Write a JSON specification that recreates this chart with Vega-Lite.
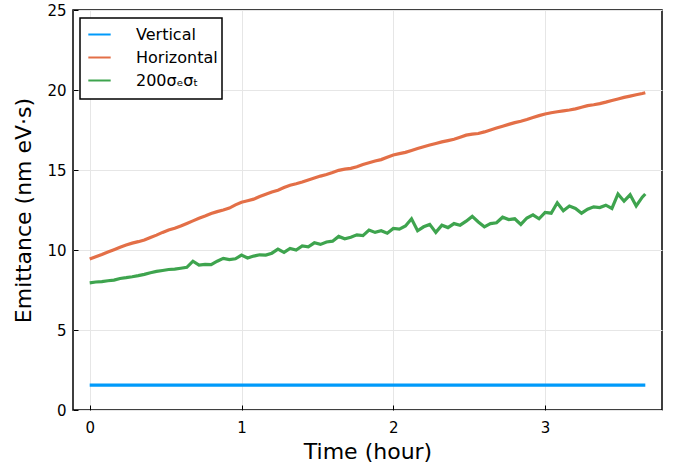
{
  "$schema": "https://vega.github.io/schema/vega-lite/v6.json",
  "autosize": "none",
  "width": 589,
  "height": 400,
  "padding": {"left": 73, "top": 10, "right": 16, "bottom": 58},
  "background": "white",
  "config": {
    "view": {"stroke": "#000000", "strokeWidth": 1.5},
    "font": "DejaVu Sans",
    "axis": {
      "labelFont": "DejaVu Sans",
      "titleFont": "DejaVu Sans",
      "labelColor": "#000000",
      "titleColor": "#000000",
      "labelFontSize": 15,
      "titleFontSize": 22,
      "titleFontWeight": "normal",
      "gridColor": "#e6e6e6",
      "gridWidth": 1,
      "domain": false,
      "tickColor": "#000000",
      "tickSize": -5,
      "tickWidth": 1
    }
  },
  "data": {
    "values": [
      {"t": 0.00, "V": 1.55, "H": 9.44, "G": 7.95},
      {"t": 0.04, "V": 1.55, "H": 9.58, "G": 8.00},
      {"t": 0.08, "V": 1.55, "H": 9.72, "G": 8.02},
      {"t": 0.12, "V": 1.55, "H": 9.87, "G": 8.08},
      {"t": 0.16, "V": 1.55, "H": 10.02, "G": 8.12},
      {"t": 0.20, "V": 1.55, "H": 10.17, "G": 8.22},
      {"t": 0.24, "V": 1.55, "H": 10.31, "G": 8.27},
      {"t": 0.28, "V": 1.55, "H": 10.43, "G": 8.33},
      {"t": 0.32, "V": 1.55, "H": 10.52, "G": 8.40},
      {"t": 0.36, "V": 1.55, "H": 10.62, "G": 8.48},
      {"t": 0.40, "V": 1.55, "H": 10.78, "G": 8.58},
      {"t": 0.44, "V": 1.55, "H": 10.93, "G": 8.66},
      {"t": 0.48, "V": 1.55, "H": 11.10, "G": 8.72},
      {"t": 0.52, "V": 1.55, "H": 11.25, "G": 8.78},
      {"t": 0.56, "V": 1.55, "H": 11.36, "G": 8.80},
      {"t": 0.60, "V": 1.55, "H": 11.50, "G": 8.86},
      {"t": 0.64, "V": 1.55, "H": 11.66, "G": 8.92},
      {"t": 0.68, "V": 1.55, "H": 11.82, "G": 9.30},
      {"t": 0.72, "V": 1.55, "H": 11.98, "G": 9.05},
      {"t": 0.76, "V": 1.55, "H": 12.12, "G": 9.10},
      {"t": 0.80, "V": 1.55, "H": 12.28, "G": 9.08},
      {"t": 0.84, "V": 1.55, "H": 12.40, "G": 9.30},
      {"t": 0.88, "V": 1.55, "H": 12.50, "G": 9.48},
      {"t": 0.92, "V": 1.55, "H": 12.62, "G": 9.40},
      {"t": 0.96, "V": 1.55, "H": 12.82, "G": 9.45},
      {"t": 1.00, "V": 1.55, "H": 12.98, "G": 9.68},
      {"t": 1.04, "V": 1.55, "H": 13.08, "G": 9.50},
      {"t": 1.08, "V": 1.55, "H": 13.18, "G": 9.62},
      {"t": 1.12, "V": 1.55, "H": 13.34, "G": 9.70},
      {"t": 1.16, "V": 1.55, "H": 13.48, "G": 9.68},
      {"t": 1.20, "V": 1.55, "H": 13.62, "G": 9.80},
      {"t": 1.24, "V": 1.55, "H": 13.74, "G": 10.05},
      {"t": 1.28, "V": 1.55, "H": 13.90, "G": 9.85},
      {"t": 1.32, "V": 1.55, "H": 14.05, "G": 10.10},
      {"t": 1.36, "V": 1.55, "H": 14.14, "G": 10.00},
      {"t": 1.40, "V": 1.55, "H": 14.25, "G": 10.25},
      {"t": 1.44, "V": 1.55, "H": 14.38, "G": 10.20},
      {"t": 1.48, "V": 1.55, "H": 14.50, "G": 10.45},
      {"t": 1.52, "V": 1.55, "H": 14.62, "G": 10.35},
      {"t": 1.56, "V": 1.55, "H": 14.72, "G": 10.50},
      {"t": 1.60, "V": 1.55, "H": 14.84, "G": 10.55},
      {"t": 1.64, "V": 1.55, "H": 14.98, "G": 10.85},
      {"t": 1.68, "V": 1.55, "H": 15.05, "G": 10.70},
      {"t": 1.72, "V": 1.55, "H": 15.10, "G": 10.80},
      {"t": 1.76, "V": 1.55, "H": 15.20, "G": 10.95},
      {"t": 1.80, "V": 1.55, "H": 15.34, "G": 10.90},
      {"t": 1.84, "V": 1.55, "H": 15.45, "G": 11.25},
      {"t": 1.88, "V": 1.55, "H": 15.56, "G": 11.10},
      {"t": 1.92, "V": 1.55, "H": 15.65, "G": 11.20},
      {"t": 1.96, "V": 1.55, "H": 15.80, "G": 11.05},
      {"t": 2.00, "V": 1.55, "H": 15.94, "G": 11.35},
      {"t": 2.04, "V": 1.55, "H": 16.02, "G": 11.30},
      {"t": 2.08, "V": 1.55, "H": 16.10, "G": 11.50},
      {"t": 2.12, "V": 1.55, "H": 16.22, "G": 11.95},
      {"t": 2.16, "V": 1.55, "H": 16.34, "G": 11.20},
      {"t": 2.20, "V": 1.55, "H": 16.45, "G": 11.45},
      {"t": 2.24, "V": 1.55, "H": 16.56, "G": 11.60},
      {"t": 2.28, "V": 1.55, "H": 16.66, "G": 11.10},
      {"t": 2.32, "V": 1.55, "H": 16.76, "G": 11.55},
      {"t": 2.36, "V": 1.55, "H": 16.84, "G": 11.40},
      {"t": 2.40, "V": 1.55, "H": 16.92, "G": 11.65},
      {"t": 2.44, "V": 1.55, "H": 17.05, "G": 11.55},
      {"t": 2.48, "V": 1.55, "H": 17.18, "G": 11.80},
      {"t": 2.52, "V": 1.55, "H": 17.24, "G": 12.10},
      {"t": 2.56, "V": 1.55, "H": 17.28, "G": 11.75},
      {"t": 2.60, "V": 1.55, "H": 17.38, "G": 11.45},
      {"t": 2.64, "V": 1.55, "H": 17.50, "G": 11.65},
      {"t": 2.68, "V": 1.55, "H": 17.62, "G": 11.70},
      {"t": 2.72, "V": 1.55, "H": 17.74, "G": 12.05},
      {"t": 2.76, "V": 1.55, "H": 17.85, "G": 11.90},
      {"t": 2.80, "V": 1.55, "H": 17.96, "G": 11.95},
      {"t": 2.84, "V": 1.55, "H": 18.05, "G": 11.60},
      {"t": 2.88, "V": 1.55, "H": 18.16, "G": 12.00},
      {"t": 2.92, "V": 1.55, "H": 18.28, "G": 12.20},
      {"t": 2.96, "V": 1.55, "H": 18.40, "G": 11.95},
      {"t": 3.00, "V": 1.55, "H": 18.50, "G": 12.35},
      {"t": 3.04, "V": 1.55, "H": 18.58, "G": 12.30},
      {"t": 3.08, "V": 1.55, "H": 18.64, "G": 12.95},
      {"t": 3.12, "V": 1.55, "H": 18.70, "G": 12.45},
      {"t": 3.16, "V": 1.55, "H": 18.75, "G": 12.75},
      {"t": 3.20, "V": 1.55, "H": 18.82, "G": 12.60},
      {"t": 3.24, "V": 1.55, "H": 18.92, "G": 12.30},
      {"t": 3.28, "V": 1.55, "H": 19.02, "G": 12.55},
      {"t": 3.32, "V": 1.55, "H": 19.08, "G": 12.70},
      {"t": 3.36, "V": 1.55, "H": 19.15, "G": 12.65},
      {"t": 3.40, "V": 1.55, "H": 19.24, "G": 12.80},
      {"t": 3.44, "V": 1.55, "H": 19.34, "G": 12.60},
      {"t": 3.48, "V": 1.55, "H": 19.44, "G": 13.50},
      {"t": 3.52, "V": 1.55, "H": 19.54, "G": 13.05},
      {"t": 3.56, "V": 1.55, "H": 19.62, "G": 13.45},
      {"t": 3.60, "V": 1.55, "H": 19.70, "G": 12.75},
      {"t": 3.64, "V": 1.55, "H": 19.78, "G": 13.30},
      {"t": 3.66, "V": 1.55, "H": 19.83, "G": 13.50}
    ]
  },
  "transform": [{"fold": ["V", "H", "G"], "as": ["series", "value"]}],
  "mark": {"type": "line", "strokeWidth": 3.2, "clip": true},
  "encoding": {
    "x": {
      "field": "t",
      "type": "quantitative",
      "scale": {"domain": [-0.11, 3.77], "nice": false, "zero": false},
      "axis": {
        "title": "Time (hour)",
        "values": [0, 1, 2, 3],
        "labelPadding": 15,
        "titleY": 41,
        "titleBaseline": "middle"
      }
    },
    "y": {
      "field": "value",
      "type": "quantitative",
      "scale": {"domain": [0, 25], "nice": false},
      "axis": {
        "title": "Emittance (nm eV·s)",
        "values": [0, 5, 10, 15, 20, 25],
        "labelPadding": 12,
        "titleX": -50,
        "titleY": 200,
        "titleBaseline": "middle"
      }
    },
    "color": {
      "field": "series",
      "type": "nominal",
      "scale": {"domain": ["V", "H", "G"], "range": ["#009AFA", "#E36F47", "#3EA44E"]},
      "legend": {
        "title": " ",
        "titleOrient": "bottom",
        "titleFontSize": 2,
        "titlePadding": 4,
        "orient": "none",
        "legendX": 7,
        "legendY": 8,
        "padding": 4,
        "strokeColor": "#000000",
        "fillColor": "#ffffff",
        "symbolType": "stroke",
        "symbolSize": 500,
        "symbolOffset": 3,
        "symbolStrokeWidth": 2,
        "labelFont": "DejaVu Sans",
        "labelFontSize": 16,
        "labelColor": "#000000",
        "labelOffset": 24,
        "rowPadding": 2,
        "labelExpr": "datum.label == 'V' ? 'Vertical' : datum.label == 'H' ? 'Horizontal' : '200σₑσₜ'",
        "encode": {"legend": {"update": {"strokeWidth": {"value": 1.5}}}}
      }
    }
  }
}
